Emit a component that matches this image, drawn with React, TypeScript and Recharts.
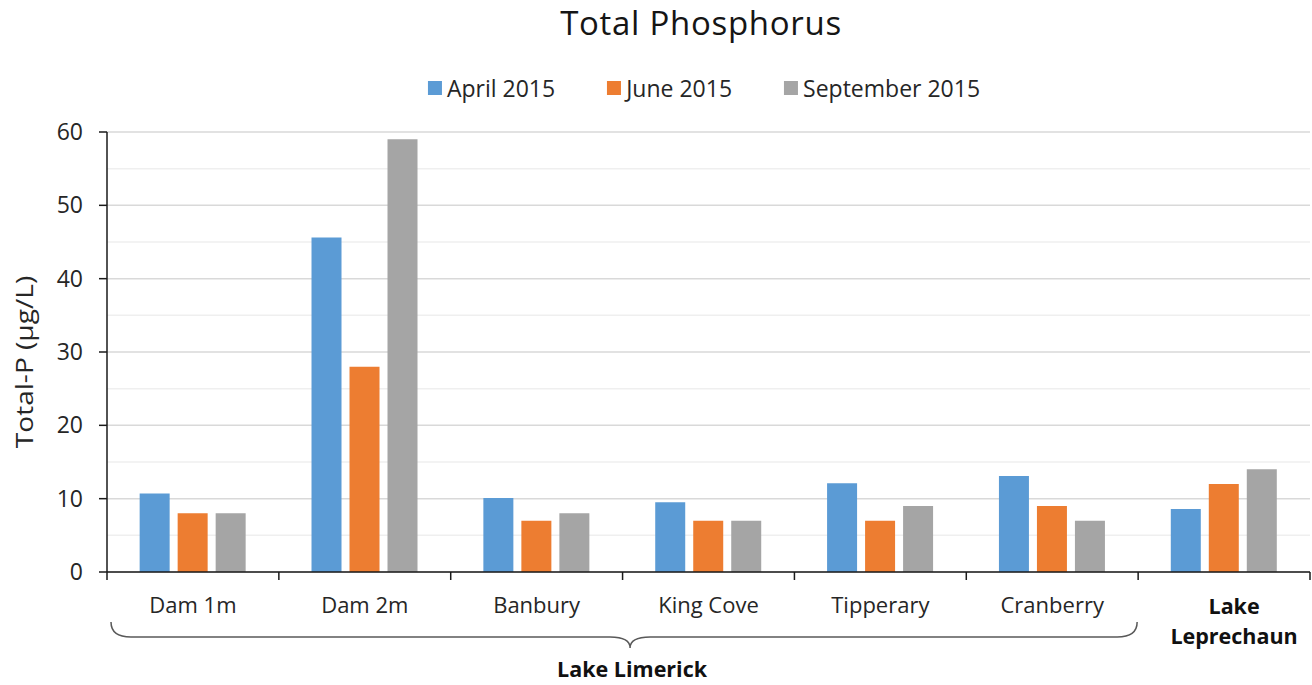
import React from 'react';
import { BarChart, Bar, XAxis, YAxis, CartesianGrid } from 'recharts';

const categories = ['Dam 1m', 'Dam 2m', 'Banbury', 'King Cove', 'Tipperary', 'Cranberry', 'Lake Leprechaun'];
const boldCategories = ['Lake Leprechaun'];
const april2015 = [10.7, 45.6, 10.1, 9.5, 12.1, 13.1, 8.6];
const june2015 = [8, 28, 7, 7, 7, 9, 12];
const september2015 = [8, 59, 8, 7, 9, 7, 14];
const yTicks = [0, 10, 20, 30, 40, 50, 60];
const minorGrid = [5, 15, 25, 35, 45, 55];
const groupLabel = 'Lake Limerick';
const groupSpan = 6;

const seriesNames = ['April 2015', 'June 2015', 'September 2015'];
const seriesKeys = ['april', 'june', 'september'];
const seriesColors = ['#5B9BD5', '#ED7D31', '#A5A5A5'];

const data = categories.map((c, i) => ({
  name: c,
  april: april2015[i],
  june: june2015[i],
  september: september2015[i],
}));

const FONT = "'Open Sans', sans-serif";
const TEXT = '#262626';

function XTick(props: any) {
  const { x, y, payload, index, width, visibleTicksCount } = props;
  const bw = width && visibleTicksCount ? width / visibleTicksCount : (payload?.offset || 0) * 2;
  const left = x - bw / 2;
  const right = x + bw / 2;
  const isLast = index === visibleTicksCount - 1;
  const bold = boldCategories.includes(payload.value);
  const words = String(payload.value).split(' ');
  return (
    <g>
      <line x1={left} y1={y} x2={left} y2={y + 8} stroke="#1a1a1a" strokeWidth={1.5} />
      {isLast && <line x1={right} y1={y} x2={right} y2={y + 8} stroke="#1a1a1a" strokeWidth={1.5} />}
      {bold ? (
        <text textAnchor="middle" fontFamily={FONT} fontSize={21.5} fontWeight={700} fill="#111">
          <tspan x={x + 10} y={y + 42}>{words[0]}</tspan>
          <tspan x={x + 10} y={y + 72}>{words.slice(1).join(' ')}</tspan>
        </text>
      ) : (
        <text x={x} y={y + 41} textAnchor="middle" fontFamily={FONT} fontSize={22} fill={TEXT}>
          {payload.value}
        </text>
      )}
      {index === 0 && (() => {
        const L = left + 4;
        const R = left + groupSpan * bw - 1;
        const M = (L + R) / 2 + 6;
        const top = y + 50;
        const mid = y + 65;
        const tip = y + 76;
        const r = 20;
        const d = `M${L},${top} Q${L},${mid} ${L + r},${mid} H${M - r} Q${M},${mid} ${M},${tip} Q${M},${mid} ${M + r},${mid} H${R - r} Q${R},${mid} ${R},${top}`;
        return (
          <g>
            <path d={d} fill="none" stroke="#595959" strokeWidth={1.5} />
            <text x={M + 2} y={y + 105} textAnchor="middle" fontFamily={FONT} fontSize={21.5} fontWeight={700} fill="#111">
              {groupLabel}
            </text>
          </g>
        );
      })()}
    </g>
  );
}

function YLabel(props: any) {
  const vb = props.viewBox || {};
  const cx = (vb.x || 0) + 17;
  const cy = (vb.y || 0) + (vb.height || 0) / 2 + 10;
  return (
    <text
      transform={`translate(${cx},${cy}) rotate(-90) scale(1.17,1)`}
      textAnchor="middle"
      dominantBaseline="central"
      fontFamily={FONT}
      fontSize={24}
      fill={TEXT}
    >
      {props.value}
    </text>
  );
}

export default function App() {
  return (
    <div style={{ position: 'absolute', left: 0, top: 0, width: 1312, height: 685, background: '#fff', fontFamily: FONT }}>
      <div
        style={{
          position: 'absolute',
          left: 701,
          top: 0,
          transform: 'translateX(-50%)',
          fontSize: 33,
          letterSpacing: 0.7,
          color: '#151515',
          whiteSpace: 'nowrap',
          lineHeight: '45px',
        }}
      >
        Total Phosphorus
      </div>
      <div
        style={{
          position: 'absolute',
          left: 704,
          top: 72,
          transform: 'translateX(-50%)',
          display: 'flex',
          alignItems: 'center',
          gap: 52,
          whiteSpace: 'nowrap',
          fontSize: 23,
          color: TEXT,
          lineHeight: '32px',
        }}
      >
        {seriesNames.map((n, i) => (
          <div key={n} style={{ display: 'flex', alignItems: 'center' }}>
            <span style={{ display: 'inline-block', width: 14, height: 14, background: seriesColors[i], marginRight: 5 }} />
            <span>{n}</span>
          </div>
        ))}
      </div>
      <div style={{ position: 'absolute', left: 0, top: 0 }}>
        <BarChart
          width={1312}
          height={685}
          data={data}
          margin={{ top: 132, right: 2, bottom: 83, left: 7 }}
          barCategoryGap="19%"
          barGap={8}
        >
          <CartesianGrid vertical={false} horizontalValues={minorGrid} stroke="#efefef" strokeWidth={1.5} />
          <CartesianGrid vertical={false} horizontalValues={yTicks} stroke="#d9d9d9" strokeWidth={1.5} />
          <XAxis
            dataKey="name"
            height={30}
            tickLine={false}
            tickSize={0}
            tickMargin={0}
            axisLine={{ stroke: '#1a1a1a', strokeWidth: 1.5 }}
            tick={<XTick />}
            interval={0}
          />
          <YAxis
            width={100}
            domain={[0, 60]}
            ticks={yTicks}
            tickSize={8}
            tickMargin={16}
            axisLine={{ stroke: '#1a1a1a', strokeWidth: 1.5 }}
            tickLine={{ stroke: '#1a1a1a', strokeWidth: 1.5 }}
            tick={{ fontSize: 23, fill: TEXT, fontFamily: FONT }}
            label={<YLabel value="Total-P (μg/L)" />}
          />
          {seriesKeys.map((k, i) => (
            <Bar key={k} dataKey={k} name={seriesNames[i]} fill={seriesColors[i]} isAnimationActive={false} />
          ))}
        </BarChart>
      </div>
    </div>
  );
}
